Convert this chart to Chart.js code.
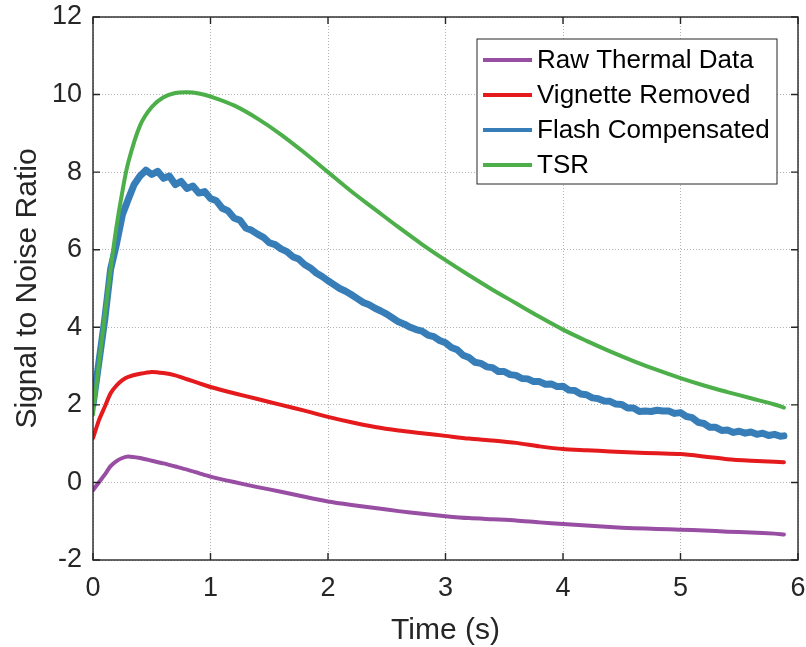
<!DOCTYPE html>
<html>
<head>
<meta charset="utf-8">
<script src="https://cdn.jsdelivr.net/npm/chart.js@4.4.1/dist/chart.umd.min.js"></script>
<style>
    html, body { margin: 0; padding: 0; background: #fff; }
    #wrap { width: 806px; height: 647px; }
</style>
</head>
<body>
<div id="wrap"><canvas id="snrChart" width="806" height="647"></canvas></div>
<script>
// time samples (s) shared by the smooth series
const timeCoarse = [0, 0.05, 0.1, 0.15, 0.2, 0.25, 0.3, 0.4, 0.5, 0.6, 0.7, 0.8, 0.9, 1.0,
    1.2, 1.4, 1.6, 1.8, 2.0, 2.2, 2.4, 2.6, 2.8, 3.0, 3.2, 3.4, 3.6, 3.8, 4.0,
    4.2, 4.4, 4.6, 4.8, 5.0, 5.2, 5.4, 5.6, 5.8, 5.88];

const rawThermal = [-0.2, 0.0, 0.2, 0.42, 0.55, 0.63, 0.67, 0.63, 0.56, 0.49, 0.41, 0.33, 0.24, 0.15,
    0.01, -0.12, -0.24, -0.37, -0.49, -0.58, -0.66, -0.74, -0.81, -0.87, -0.92, -0.95, -0.98, -1.03, -1.07,
    -1.11, -1.15, -1.18, -1.2, -1.22, -1.24, -1.27, -1.29, -1.32, -1.34];

const vignetteRemoved = [1.14, 1.6, 1.95, 2.3, 2.5, 2.64, 2.72, 2.8, 2.85, 2.82, 2.76, 2.66, 2.56, 2.46,
    2.3, 2.15, 2.0, 1.85, 1.69, 1.55, 1.43, 1.34, 1.27, 1.2, 1.13, 1.08, 1.02, 0.93, 0.86,
    0.83, 0.8, 0.77, 0.75, 0.73, 0.67, 0.6, 0.56, 0.53, 0.52];

const tsr = [1.75, 3.05, 4.3, 5.5, 6.6, 7.5, 8.25, 9.2, 9.68, 9.93, 10.04, 10.06, 10.03, 9.95,
    9.72, 9.38, 8.97, 8.5, 8.0, 7.5, 7.04, 6.58, 6.14, 5.73, 5.34, 4.97, 4.62, 4.27, 3.94,
    3.65, 3.38, 3.13, 2.9, 2.69, 2.5, 2.33, 2.17, 2.01, 1.93];

// flash compensated is noisy, so it gets a denser time base
const timeFine = [0, 0.05, 0.1, 0.15, 0.2, 0.25, 0.3, 0.35, 0.4, 0.45, 0.5, 0.55, 0.6, 0.65, 0.7, 0.75,
    0.8, 0.85, 0.9, 0.95, 1.0, 1.05, 1.1, 1.15, 1.2, 1.25, 1.3, 1.35, 1.4, 1.45, 1.5, 1.55,
    1.6, 1.65, 1.7, 1.75, 1.8, 1.85, 1.9, 1.95, 2.0, 2.05, 2.1, 2.15, 2.2, 2.25, 2.3, 2.35,
    2.4, 2.45, 2.5, 2.55, 2.6, 2.65, 2.7, 2.75, 2.8, 2.85, 2.9, 2.95, 3.0, 3.05, 3.1, 3.15,
    3.2, 3.25, 3.3, 3.35, 3.4, 3.45, 3.5, 3.55, 3.6, 3.65, 3.7, 3.75, 3.8, 3.85, 3.9, 3.95,
    4.0, 4.05, 4.1, 4.15, 4.2, 4.25, 4.3, 4.35, 4.4, 4.45, 4.5, 4.55, 4.6, 4.65, 4.7, 4.75,
    4.8, 4.85, 4.9, 4.95, 5.0, 5.05, 5.1, 5.15, 5.2, 5.25, 5.3, 5.35, 5.4, 5.45, 5.5, 5.55,
    5.6, 5.65, 5.7, 5.75, 5.8, 5.85, 5.88];

const flashCompensated = [2.0, 3.1, 4.2, 5.5, 6.15, 6.9, 7.3, 7.68, 7.9, 8.05, 7.94, 8.02, 7.84, 7.9, 7.68, 7.76,
    7.58, 7.64, 7.46, 7.5, 7.32, 7.26, 7.07, 7.0, 6.82, 6.76, 6.56, 6.5, 6.4, 6.32, 6.18, 6.13,
    6.02, 5.95, 5.82, 5.76, 5.62, 5.53, 5.4, 5.31, 5.2, 5.1, 5.0, 4.93, 4.84, 4.74, 4.64, 4.58,
    4.49, 4.42, 4.34, 4.24, 4.14, 4.08, 4.0, 3.94, 3.9, 3.8, 3.76, 3.66, 3.6, 3.48, 3.42, 3.28,
    3.22, 3.1, 3.07, 2.98, 2.96, 2.86, 2.86, 2.78, 2.76, 2.68, 2.67, 2.6, 2.6, 2.53, 2.54, 2.47,
    2.48, 2.38, 2.37, 2.28, 2.26, 2.18, 2.16, 2.1, 2.09, 2.02, 2.01, 1.92, 1.92, 1.83, 1.84, 1.83,
    1.86, 1.84, 1.84, 1.78, 1.8, 1.7, 1.67, 1.55, 1.52, 1.42, 1.42, 1.34, 1.35, 1.29, 1.32, 1.27,
    1.3, 1.24, 1.27, 1.21, 1.24, 1.19, 1.2];

const xTicks = [0, 1, 2, 3, 4, 5, 6];
const yTicks = [-2, 0, 2, 4, 6, 8, 10, 12];

const FONT = "'Liberation Sans', Arial, Helvetica, sans-serif";

const toPoints = (xs, ys) => xs.map((x, i) => ({ x: x, y: ys[i] }));

// MATLAB-style box, inward ticks and a legend inside the axes
const boxPlugin = {
    id: "matlabBox",
    afterDatasetsDraw(chart) {
        const { ctx, chartArea: a, scales } = chart;
        ctx.save();
        ctx.strokeStyle = "#262626";
        ctx.lineWidth = 1.4;
        ctx.strokeRect(a.left, a.top, a.right - a.left, a.bottom - a.top);
        const len = 7;
        ctx.beginPath();
        xTicks.forEach(v => {
            const px = scales.x.getPixelForValue(v);
            ctx.moveTo(px, a.bottom); ctx.lineTo(px, a.bottom - len);
            ctx.moveTo(px, a.top); ctx.lineTo(px, a.top + len);
        });
        yTicks.forEach(v => {
            const py = scales.y.getPixelForValue(v);
            ctx.moveTo(a.left, py); ctx.lineTo(a.left + len, py);
            ctx.moveTo(a.right, py); ctx.lineTo(a.right - len, py);
        });
        ctx.stroke();

        // legend
        const lx = 477, ly = 39, lw = 300, lh = 145;
        ctx.fillStyle = "#fff";
        ctx.fillRect(lx, ly, lw, lh);
        ctx.strokeStyle = "#262626";
        ctx.lineWidth = 1;
        ctx.strokeRect(lx, ly, lw, lh);
        ctx.font = "26px " + FONT;
        ctx.textBaseline = "middle";
        ctx.textAlign = "left";
        const rows = [60, 95, 130, 165];
        chart.data.datasets.forEach((ds, i) => {
            ctx.strokeStyle = ds.borderColor;
            ctx.lineWidth = 4;
            ctx.beginPath();
            ctx.moveTo(483, rows[i]);
            ctx.lineTo(532, rows[i]);
            ctx.stroke();
            ctx.fillStyle = "#000";
            ctx.fillText(ds.label, 537, rows[i] + 1);
        });
        ctx.restore();
    }
};

new Chart(document.getElementById("snrChart"), {
    type: "line",
    data: {
        datasets: [
            { label: "Raw Thermal Data", data: toPoints(timeCoarse, rawThermal), borderColor: "#984ea3", borderWidth: 4, tension: 0.25, order: 4 },
            { label: "Vignette Removed", data: toPoints(timeCoarse, vignetteRemoved), borderColor: "#e41a1c", borderWidth: 4, tension: 0.25, order: 3 },
            { label: "Flash Compensated", data: toPoints(timeFine, flashCompensated), borderColor: "#377eb8", borderWidth: 7, tension: 0, order: 2 },
            { label: "TSR", data: toPoints(timeCoarse, tsr), borderColor: "#4daf4a", borderWidth: 4, tension: 0.35, order: 1 }
        ]
    },
    options: {
        responsive: false,
        animation: false,
        elements: {
            point: { radius: 0 },
            line: { fill: false, borderCapStyle: "round", borderJoinStyle: "round" }
        },
        layout: { padding: { left: 0, top: 17, right: 8, bottom: 0 } },
        plugins: {
            legend: { display: false },
            tooltip: { enabled: false }
        },
        scales: {
            x: {
                type: "linear",
                min: 0,
                max: 6,
                afterBuildTicks: s => { s.ticks = xTicks.map(v => ({ value: v })); },
                afterFit: s => { s.height = 87; s.paddingLeft = 0; s.paddingRight = 0; },
                grid: { color: "rgba(0,0,0,0.3)", lineWidth: 1, drawTicks: false },
                border: { display: false, dash: [1, 2] },
                ticks: { color: "#262626", font: { family: FONT, size: 27 }, padding: 12, maxRotation: 0 },
                title: { display: true, text: "Time (s)", color: "#262626", font: { family: FONT, size: 30, lineHeight: 1.1 }, padding: { top: 0, bottom: 0 } }
            },
            y: {
                type: "linear",
                min: -2,
                max: 12,
                afterBuildTicks: s => { s.ticks = yTicks.map(v => ({ value: v })); },
                afterFit: s => { s.width = 93; s.paddingTop = 0; s.paddingBottom = 0; },
                grid: { color: "rgba(0,0,0,0.3)", lineWidth: 1, drawTicks: false },
                border: { display: false, dash: [1, 2] },
                ticks: { color: "#262626", font: { family: FONT, size: 27 }, padding: 11 },
                title: { display: true, text: "Signal to Noise Ratio", color: "#262626", font: { family: FONT, size: 30 }, padding: { top: 10, bottom: 0 } }
            }
        }
    },
    plugins: [boxPlugin]
});
</script>
</body>
</html>
